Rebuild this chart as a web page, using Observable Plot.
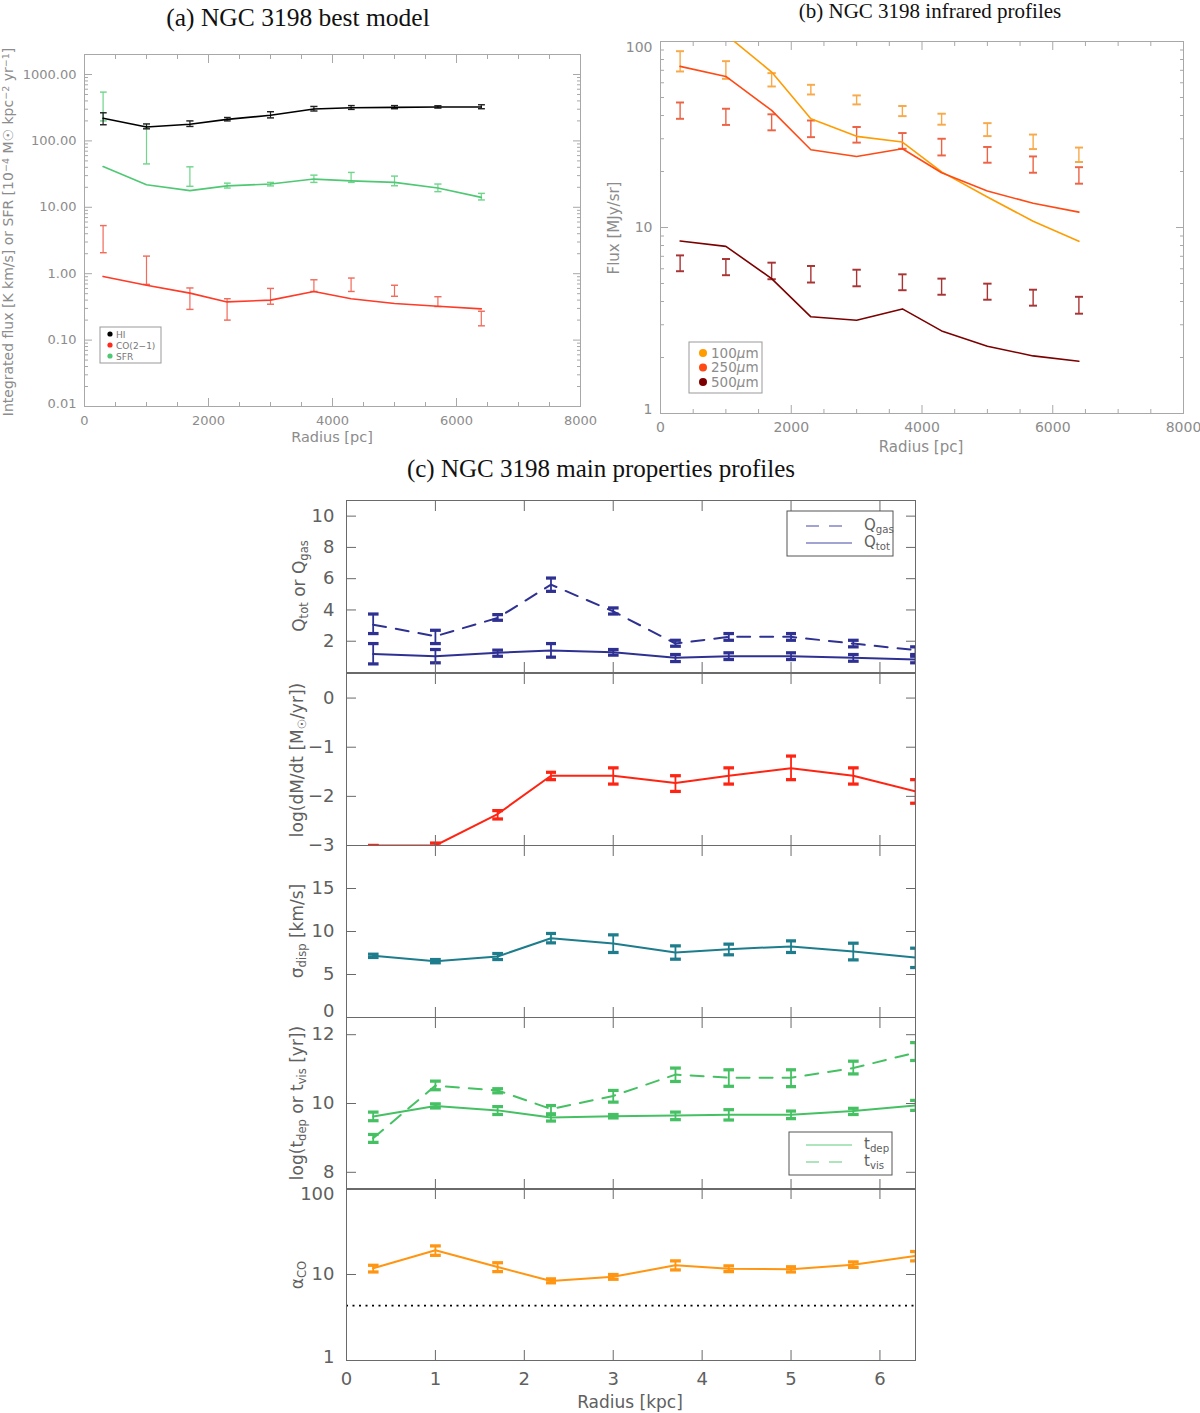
<!DOCTYPE html>
<html>
<head>
<meta charset="utf-8">
<script src="https://cdn.jsdelivr.net/npm/d3@7"></script>
<script src="https://cdn.jsdelivr.net/npm/@observablehq/plot@0.6"></script>
<style>
  body { margin: 0; background: #fff; }
  #fig { position: relative; width: 1200px; height: 1413px; overflow: hidden; background: #fff; }
</style>
</head>
<body>
<div id="fig"></div>
<script>
// radii of the annuli
const radiusPc = [300, 1000, 1700, 2300, 3000, 3700, 4300, 5000, 5700, 6400];
const radiusKpc = [0.3, 1.0, 1.7, 2.3, 3.0, 3.7, 4.3, 5.0, 5.7, 6.4];

// (a) best model: model lines + observed ranges
const hiModel = [219, 162, 178, 211, 243, 302, 316, 320, 324, 324];
const hiLow = [175, 152, 165, 200, 222, 282, 298, 305, 312, 305];
const hiHigh = [265, 180, 200, 225, 275, 330, 340, 340, 338, 350];
const sfrModel = [41, 21.9, 17.8, 21, 22.4, 26.6, 25, 23.7, 19.5, 14.1];
const sfrLow = [200, 45, 20.7, 19.5, 21, 23.7, 23.7, 21.1, 17.2, 12.9];
const sfrHigh = [543, 165, 40.7, 23.1, 23.7, 30.5, 33.5, 29.5, 22.4, 16.2];
const coModel = [0.91, 0.67, 0.51, 0.376, 0.40, 0.54, 0.42, 0.355, 0.324, 0.295];
const coLow = [2.07, 0.69, 0.29, 0.2, 0.347, 0.54, 0.54, 0.457, 0.32, 0.164];
const coHigh = [5.3, 1.84, 0.61, 0.42, 0.6, 0.81, 0.86, 0.67, 0.45, 0.272];

// (b) infrared profiles
const ir100Model = [150, 109, 68.5, 38.4, 30.9, 28.8, 19.9, 14.6, 10.8, 8.43];
const ir100Low = [69.0, 63.0, 57.3, 51.9, 45.9, 39.7, 35.7, 31.0, 26.4, 22.5];
const ir100High = [88.7, 78.4, 67.6, 58.5, 51.3, 45.0, 40.9, 36.4, 31.6, 26.9];
const ir250Model = [73.5, 64.9, 42.6, 26.2, 24.1, 26.5, 19.7, 15.7, 13.5, 12.1];
const ir250Low = [38.4, 35.6, 33.3, 30.6, 28.6, 26.5, 24.4, 22.3, 19.7, 17.2];
const ir250High = [47.0, 43.5, 40.6, 37.6, 34.7, 32.2, 30.0, 27.1, 24.1, 21.1];
const ir500Model = [8.46, 7.92, 5.31, 3.31, 3.17, 3.65, 2.78, 2.30, 2.04, 1.91];
const ir500Low = [5.82, 5.54, 5.27, 5.06, 4.83, 4.60, 4.35, 4.09, 3.80, 3.44];
const ir500High = [7.08, 6.77, 6.47, 6.21, 5.93, 5.60, 5.31, 4.99, 4.63, 4.24];

// (c) main properties
const qGas = [3.06, 2.32, 3.49, 5.62, 3.91, 1.85, 2.28, 2.28, 1.85, 1.43];
const qGasLow = [2.49, 1.85, 3.34, 5.19, 3.74, 1.68, 2.06, 2.06, 1.64, 1.15];
const qGasHigh = [3.74, 2.70, 3.70, 6.04, 4.13, 2.06, 2.49, 2.49, 2.06, 1.64];
const qTot = [1.19, 1.04, 1.26, 1.40, 1.30, 0.94, 1.04, 1.04, 0.94, 0.83];
const qTotLow = [0.55, 0.62, 1.04, 0.98, 1.11, 0.70, 0.83, 0.83, 0.72, 0.62];
const qTotHigh = [1.85, 1.47, 1.43, 1.85, 1.47, 1.15, 1.26, 1.26, 1.15, 1.04];
const logMdot = [-3.0, -3.0, -2.36, -1.58, -1.58, -1.73, -1.58, -1.43, -1.58, -1.90];
const logMdotLow = [-3.0, -3.05, -2.46, -1.66, -1.75, -1.90, -1.75, -1.66, -1.75, -2.14];
const logMdotHigh = [-3.0, -2.95, -2.29, -1.51, -1.42, -1.58, -1.42, -1.18, -1.42, -1.66];
const sigma = [7.17, 6.55, 7.10, 9.22, 8.60, 7.56, 7.95, 8.26, 7.67, 6.98];
const sigmaLow = [6.98, 6.36, 6.74, 8.68, 7.56, 6.78, 7.29, 7.56, 6.70, 5.81];
const sigmaHigh = [7.36, 6.74, 7.44, 9.77, 9.61, 8.33, 8.53, 8.91, 8.64, 8.06];
const tDep = [9.62, 9.93, 9.80, 9.59, 9.63, 9.65, 9.67, 9.67, 9.78, 9.94];
const tDepLow = [9.50, 9.87, 9.68, 9.49, 9.58, 9.53, 9.52, 9.56, 9.68, 9.80];
const tDepHigh = [9.75, 9.99, 9.91, 9.70, 9.68, 9.75, 9.82, 9.78, 9.86, 10.09];
const tVis = [8.99, 10.52, 10.38, 9.84, 10.22, 10.84, 10.75, 10.75, 11.03, 11.48];
const tVisLow = [8.87, 10.40, 10.31, 9.68, 10.04, 10.64, 10.50, 10.49, 10.86, 11.25];
const tVisHigh = [9.10, 10.65, 10.43, 9.94, 10.38, 11.03, 10.98, 10.98, 11.23, 11.77];
const alphaCO = [11.8, 19.1, 12.2, 8.4, 9.4, 12.8, 11.7, 11.5, 13.0, 16.4];
const alphaLow = [10.7, 16.7, 10.8, 8.0, 8.8, 11.3, 10.8, 10.7, 12.1, 14.4];
const alphaHigh = [12.8, 21.5, 13.7, 8.9, 10.0, 14.4, 12.6, 12.3, 14.0, 18.5];
const alphaGalactic = [4.35];

// tick labels
const ticksPcMajor = [0, 2000, 4000, 6000, 8000];
const ticksFluxA = [0.01, 0.1, 1, 10, 100, 1000];
const ticksFluxB = [1, 10, 100];
const ticksKpc = [0, 1, 2, 3, 4, 5, 6];
const ticksQ = [2, 4, 6, 8, 10];
const ticksMdot = [-3, -2, -1, 0];
const ticksSigma = [0, 5, 10, 15];
const ticksT = [8, 10, 12];
const ticksAlpha = [1, 10, 100];

const fig = document.getElementById("fig");
const SANS = "DejaVu Sans";

function rows(xs, ys, lo, hi) {
  return xs.map((x, i) => ({x, y: ys ? ys[i] : null, lo: lo ? lo[i] : null, hi: hi ? hi[i] : null}));
}
function lineM(xs, ys, stroke, o = {}) {
  return Plot.line(rows(xs, ys), {x: "x", y: "y", stroke, clip: true, ...o});
}
function errM(xs, lo, hi, stroke, o = {}) {
  return Plot.link(rows(xs, null, lo, hi), {
    x1: "x", x2: "x", y1: "lo", y2: "hi", stroke,
    markerStart: "tick-x", markerEnd: "tick-x", clip: true, ...o
  });
}
function logMinor(e0, e1, lo, hi) {
  const t = [];
  for (let e = e0; e < e1; e++) for (let k = 2; k <= 9; k++) t.push(+(k * 10 ** e).toPrecision(3));
  return t.filter(v => v > lo && v < hi);
}

// frame with inward ticks on all four sides, IDL style
function boxAxes(o) {
  const m = [Plot.frame({stroke: o.frame})];
  for (const anchor of ["bottom", "top"]) {
    m.push(Plot.axisX(o.xMajor, {anchor, tickSize: -o.tMaj, fill: "none", stroke: o.frame, label: null}));
    if (o.xMinor) m.push(Plot.axisX(o.xMinor, {anchor, tickSize: -o.tMin, fill: "none", stroke: o.frame, label: null}));
  }
  for (const anchor of ["left", "right"]) {
    m.push(Plot.axisY(o.yMajor, {anchor, tickSize: -o.tMaj, fill: "none", stroke: o.frame, label: null}));
    if (o.yMinor) m.push(Plot.axisY(o.yMinor, {anchor, tickSize: -o.tMin, fill: "none", stroke: o.frame, label: null}));
  }
  if (o.xLabels) m.push(Plot.axisX(o.xLabels, {anchor: "bottom", tickSize: 0, tickPadding: o.xPad ?? o.pad, stroke: "none", tickFormat: o.xFmt, label: null}));
  if (o.yLabels) {
    const nudge = o.yNudge || {};
    const plain = o.yLabels.filter(v => !(String(v) in nudge));
    m.push(Plot.axisY(plain, {anchor: "left", tickSize: 0, tickPadding: o.pad, stroke: "none", tickFormat: o.yFmt, label: null}));
    for (const k of Object.keys(nudge)) {
      m.push(Plot.axisY([+k], {anchor: "left", tickSize: 0, tickPadding: o.pad, stroke: "none", tickFormat: o.yFmt, label: null, dy: nudge[k]}));
    }
  }
  return m;
}

function place(left, top, color, size) {
  return {position: "absolute", left: left + "px", top: top + "px", background: "none",
    color, fontSize: size + "px", fontFamily: SANS, overflow: "visible"};
}

const pcMinor = d3.range(500, 8000, 500).filter(v => v % 2000);

// (a)
fig.append(Plot.plot({
  width: 600, height: 470,
  marginLeft: 84, marginRight: 20, marginTop: 54, marginBottom: 64,
  x: {domain: [0, 8000], label: null},
  y: {type: "log", domain: [0.01, 2000], label: null},
  style: place(0, 0, "#8c8c8c", 13),
  marks: [
    ...boxAxes({frame: "#a8a8a8", tMaj: 8, tMin: 4, pad: 8, xPad: 9,
      xMajor: ticksPcMajor, xMinor: pcMinor, yMajor: ticksFluxA, yMinor: logMinor(-2, 4, 0.01, 2000),
      xLabels: ticksPcMajor, xFmt: d => String(d), yLabels: ticksFluxA, yFmt: d => d.toFixed(2),
      yNudge: {"0.01": -3}}),
    errM(radiusPc, sfrLow, sfrHigh, "#6fd68a", {strokeWidth: 1.2}),
    errM(radiusPc, coLow, coHigh, "#f26b5b", {strokeWidth: 1.2}),
    errM(radiusPc, hiLow, hiHigh, "#222", {strokeWidth: 1.2}),
    lineM(radiusPc, sfrModel, "#4fc873", {strokeWidth: 1.6}),
    lineM(radiusPc, coModel, "#ff3a26", {strokeWidth: 1.6}),
    lineM(radiusPc, hiModel, "#000", {strokeWidth: 1.6})
  ]
}));

// (b)
fig.append(Plot.plot({
  width: 600, height: 470,
  marginLeft: 60, marginRight: 17, marginTop: 41, marginBottom: 57,
  x: {domain: [0, 8000], label: null},
  y: {type: "log", domain: [1, 100], label: null},
  style: place(600, 0, "#8c8c8c", 14),
  marks: [
    ...boxAxes({frame: "#a8a8a8", tMaj: 8, tMin: 4, pad: 8, xPad: 9,
      xMajor: ticksPcMajor, xMinor: pcMinor, yMajor: ticksFluxB, yMinor: logMinor(0, 2, 1, 100),
      xLabels: ticksPcMajor, xFmt: d => String(d), yLabels: ticksFluxB, yFmt: d => String(d),
      yNudge: {"100": 6, "1": -4}}),
    errM(radiusPc, ir100Low, ir100High, "#f8a94a", {strokeWidth: 1.4}),
    errM(radiusPc, ir250Low, ir250High, "#ec6445", {strokeWidth: 1.4}),
    errM(radiusPc, ir500Low, ir500High, "#a83434", {strokeWidth: 1.4}),
    lineM(radiusPc, ir100Model, "#ff9c00", {strokeWidth: 1.6}),
    lineM(radiusPc, ir250Model, "#ff4a14", {strokeWidth: 1.6}),
    lineM(radiusPc, ir500Model, "#7c0000", {strokeWidth: 1.6})
  ]
}));

// (c) five stacked panels sharing the radius axis
const cPanels = [
  {top: 500, y: {domain: [0, 11]}, ticks: ticksQ, marks: [
    lineM(radiusKpc, qGas, "#2e3192", {strokeWidth: 2, strokeDasharray: "13,10"}),
    errM(radiusKpc, qGasLow, qGasHigh, "#2e3192", {strokeWidth: 1.8}),
    lineM(radiusKpc, qTot, "#2e3192", {strokeWidth: 2}),
    errM(radiusKpc, qTotLow, qTotHigh, "#2e3192", {strokeWidth: 1.8})
  ]},
  {top: 673, y: {domain: [-3, 0.5]}, ticks: ticksMdot, marks: [
    lineM(radiusKpc, logMdot, "#ff2412", {strokeWidth: 2}),
    errM(radiusKpc, logMdotLow, logMdotHigh, "#ff2412", {strokeWidth: 1.8})
  ]},
  {top: 845, y: {domain: [0, 20]}, ticks: ticksSigma, nudge: {"0": -6}, marks: [
    lineM(radiusKpc, sigma, "#1d7d8c", {strokeWidth: 2}),
    errM(radiusKpc, sigmaLow, sigmaHigh, "#1d7d8c", {strokeWidth: 1.8})
  ]},
  {top: 1017, y: {domain: [7.5, 12.5]}, ticks: ticksT, marks: [
    lineM(radiusKpc, tDep, "#45c163", {strokeWidth: 2}),
    errM(radiusKpc, tDepLow, tDepHigh, "#45c163", {strokeWidth: 1.8}),
    lineM(radiusKpc, tVis, "#45c163", {strokeWidth: 2, strokeDasharray: "13,10"}),
    errM(radiusKpc, tVisLow, tVisHigh, "#45c163", {strokeWidth: 1.8})
  ]},
  {top: 1188, y: {type: "log", domain: [1, 100]}, ticks: ticksAlpha, nudge: {"100": 6, "1": -3}, last: true, marks: [
    Plot.ruleY(alphaGalactic, {stroke: "#000", strokeWidth: 1.8, strokeDasharray: "2,4.5"}),
    lineM(radiusKpc, alphaCO, "#ff9510", {strokeWidth: 2}),
    errM(radiusKpc, alphaLow, alphaHigh, "#ff9510", {strokeWidth: 1.8})
  ]}
];

for (const p of cPanels) {
  fig.append(Plot.plot({
    width: 1200, height: p.last ? 245 : 212,
    marginLeft: 346, marginRight: 285, marginTop: 20, marginBottom: p.last ? 53 : 20,
    x: {domain: [0, 6.4], label: null},
    y: {...p.y, label: null},
    style: place(0, p.top - 20, "#606060", 18),
    marks: [
      ...p.marks,
      ...boxAxes({frame: "#6a6a6a", tMaj: 10, tMin: 5, pad: 12, xPad: 12,
        xMajor: ticksKpc.slice(1), yMajor: p.ticks,
        xLabels: p.last ? ticksKpc : null, xFmt: d => String(d), yLabels: p.ticks, yNudge: p.nudge})
    ]
  }));
}

// text overlay: titles, axis titles, legends
const svg = d3.select(fig).append("svg")
  .attr("width", 1200).attr("height", 1413)
  .style("position", "absolute").style("left", 0).style("top", 0)
  .attr("font-family", SANS);

function richText(g, parts, size) {
  for (const [s, kind] of parts) {
    const t = g.append("tspan").text(s);
    if (kind === "sub") t.attr("baseline-shift", "-25%").attr("font-size", size * 0.68);
    if (kind === "sup") t.attr("baseline-shift", "45%").attr("font-size", size * 0.68);
    if (kind === "it") t.attr("font-style", "italic");
  }
}
function label(x, y, parts, size, color, rotate = false, anchor = "middle") {
  const t = svg.append("text")
    .attr("transform", `translate(${x},${y})` + (rotate ? " rotate(-90)" : ""))
    .attr("text-anchor", anchor).attr("font-size", size).attr("fill", color);
  richText(t, parts, size);
  return t;
}
function title(x, y, s, size) {
  svg.append("text").attr("x", x).attr("y", y).attr("text-anchor", "middle")
    .attr("font-family", "Liberation Serif").attr("font-size", size).attr("fill", "#111").text(s);
}

title(298, 26, "(a) NGC 3198 best model", 25.5);
title(930, 18, "(b) NGC 3198 infrared profiles", 21);
title(601, 477, "(c) NGC 3198 main properties profiles", 25);

label(13, 232, [["Integrated flux [K km/s] or SFR [10"], ["−4", "sup"], [" M"], ["☉"], [" kpc"], ["−2", "sup"], [" yr"], ["−1", "sup"], ["]"]], 14, "#8c8c8c", true);
label(332, 442, [["Radius [pc]"]], 14.5, "#8c8c8c");
label(619, 228, [["Flux [MJy/sr]"]], 15, "#8c8c8c", true);
label(921, 452, [["Radius [pc]"]], 15, "#8c8c8c");

label(305, 586, [["Q"], ["tot", "sub"], ["  or  Q"], ["gas", "sub"]], 17, "#606060", true);
label(303, 760, [["log(dM/dt [M"], ["☉", "sub"], ["/yr])"]], 17, "#606060", true);
label(303, 931, [["σ"], ["disp", "sub"], ["  [km/s]"]], 17, "#606060", true);
label(303, 1103, [["log(t"], ["dep", "sub"], ["  or  t"], ["vis", "sub"], ["  [yr])"]], 17, "#606060", true);
label(303, 1275, [["α"], ["CO", "sub"]], 17, "#606060", true);
label(630, 1408, [["Radius [kpc]"]], 17, "#606060");

// legend (a)
svg.append("rect").attr("x", 100).attr("y", 327).attr("width", 61).attr("height", 36)
  .attr("fill", "#fff").attr("stroke", "#999");
[["HI", "#000"], ["CO(2−1)", "#ff2a1a"], ["SFR", "#4fc873"]].forEach(([s, c], i) => {
  svg.append("circle").attr("cx", 110).attr("cy", 334 + i * 11).attr("r", 2.6).attr("fill", c);
  label(116, 337.5 + i * 11, [[s]], 9, "#777", false, "start");
});

// legend (b)
svg.append("rect").attr("x", 689).attr("y", 342).attr("width", 73).attr("height", 51)
  .attr("fill", "#fff").attr("stroke", "#999");
[["100", "#ff9c00"], ["250", "#ff4a14"], ["500", "#7c0000"]].forEach(([s, c], i) => {
  svg.append("circle").attr("cx", 703).attr("cy", 353 + i * 14.5).attr("r", 4).attr("fill", c);
  label(711, 357.5 + i * 14.5, [[s], ["μ", "it"], ["m"]], 13.5, "#8c8c8c", false, "start");
});

// legend Q
svg.append("rect").attr("x", 787).attr("y", 511).attr("width", 106).attr("height", 45)
  .attr("fill", "#fff").attr("stroke", "#555");
svg.append("line").attr("x1", 806).attr("x2", 852).attr("y1", 526).attr("y2", 526)
  .attr("stroke", "#8485c4").attr("stroke-width", 1.5).attr("stroke-dasharray", "13,10");
svg.append("line").attr("x1", 806).attr("x2", 852).attr("y1", 543).attr("y2", 543)
  .attr("stroke", "#8485c4").attr("stroke-width", 1.5);
label(864, 530, [["Q"], ["gas", "sub"]], 15, "#606060", false, "start");
label(864, 547, [["Q"], ["tot", "sub"]], 15, "#606060", false, "start");

// legend t
svg.append("rect").attr("x", 789).attr("y", 1132).attr("width", 103).attr("height", 43)
  .attr("fill", "#fff").attr("stroke", "#555");
svg.append("line").attr("x1", 806).attr("x2", 852).attr("y1", 1145).attr("y2", 1145)
  .attr("stroke", "#93dca6").attr("stroke-width", 1.5);
svg.append("line").attr("x1", 806).attr("x2", 852).attr("y1", 1162).attr("y2", 1162)
  .attr("stroke", "#93dca6").attr("stroke-width", 1.5).attr("stroke-dasharray", "13,10");
label(864, 1149, [["t"], ["dep", "sub"]], 15, "#606060", false, "start");
label(864, 1166, [["t"], ["vis", "sub"]], 15, "#606060", false, "start");
</script>
</body>
</html>
